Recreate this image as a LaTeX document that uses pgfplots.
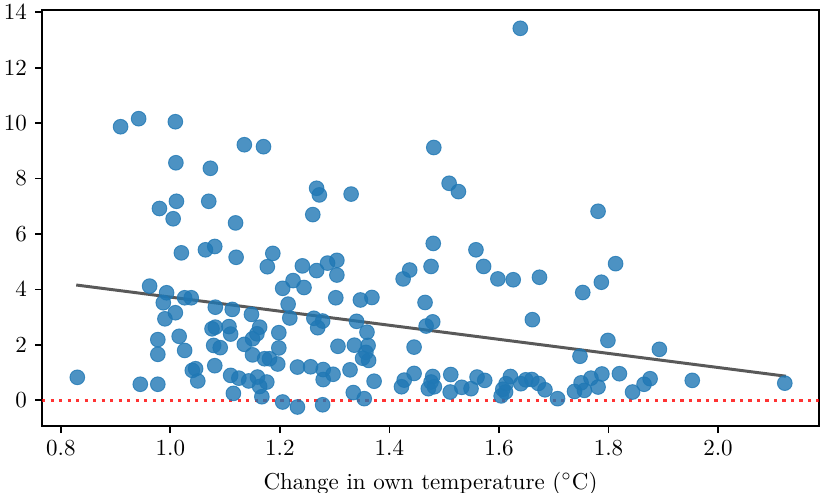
\documentclass[border=0pt]{standalone}
\usepackage{pgfplots}
\pgfplotsset{compat=1.18}
\definecolor{tabblue}{HTML}{1F77B4}
\begin{document}
\begin{tikzpicture}
\begin{axis}[name=ax, scale only axis, width=337.8pt, height=180.9pt,
  xmin=0.7655, xmax=2.1845, ymin=-0.93, ymax=14.08,
  xtick={0.8,1.0,1.2,1.4,1.6,1.8,2.0},
  ytick={0,2,4,6,8,10,12,14},
  xticklabel style={/pgf/number format/.cd, fixed, fixed zerofill, precision=1},
  tick align=outside, xtick pos=bottom, ytick pos=left, major tick length=3pt,
  axis line style={line width=0.8pt}, tick style={line width=0.8pt, black},
  xlabel={Change in own temperature ($^\circ$C)},
  clip=false]
\addplot[only marks, mark=*, mark size=3.2pt,
  mark options={fill=tabblue, draw=tabblue, fill opacity=0.8, draw opacity=0.8, line width=0.4pt}]
coordinates {
(0.830,0.83) (0.909,9.87) (0.942,10.16) (1.009,10.05) (1.010,8.57) (1.073,8.37)
(1.135,9.22) (1.170,9.15) (1.011,7.18) (1.070,7.18) (0.980,6.92) (1.005,6.55)
(1.119,6.40) (1.020,5.32) (1.064,5.43) (1.081,5.55) (1.120,5.16) (1.187,5.30)
(1.177,4.82) (0.962,4.12) (0.993,3.88) (0.987,3.52) (1.026,3.70) (1.038,3.70)
(1.009,3.16) (0.990,2.94) (1.082,3.36) (1.113,3.28) (1.148,3.10) (1.076,2.58)
(1.082,2.64) (1.107,2.66) (1.110,2.39) (1.016,2.31) (0.977,2.19) (0.977,1.66)
(1.026,1.80) (1.079,1.98) (1.091,1.90) (1.135,2.02) (1.150,2.22) (1.150,1.64)
(1.163,2.64) (1.158,2.40) (1.081,1.25) (1.040,1.08) (1.046,1.14) (1.050,0.70)
(0.945,0.58) (0.977,0.58) (1.110,0.90) (1.125,0.80) (1.143,0.70) (1.159,0.84)
(1.163,0.50) (1.176,0.66) (1.115,0.25) (1.167,0.13) (1.172,1.50) (1.181,1.50)
(1.196,1.31) (1.198,2.44) (1.198,1.89)
(1.267,7.65) (1.272,7.41) (1.330,7.44) (1.260,6.70) (1.241,4.85) (1.267,4.68)
(1.287,4.95) (1.304,5.05) (1.304,4.52) (1.224,4.32) (1.205,4.04) (1.244,4.07)
(1.302,3.70) (1.347,3.62) (1.368,3.71) (1.215,3.47) (1.218,2.97) (1.262,2.96)
(1.278,2.86) (1.269,2.62) (1.340,2.85) (1.359,2.46) (1.306,1.95) (1.336,1.99)
(1.361,1.98) (1.357,1.73) (1.351,1.52) (1.362,1.44) (1.232,1.20) (1.256,1.21)
(1.279,1.11) (1.297,0.94) (1.279,0.75) (1.328,1.10) (1.372,0.69) (1.205,-0.06)
(1.232,-0.24) (1.278,-0.16) (1.334,0.28) (1.354,0.06)
(1.425,4.38) (1.437,4.70) (1.476,4.83) (1.480,5.66) (1.465,3.53) (1.479,2.83)
(1.467,2.68) (1.445,1.92) (1.445,0.97) (1.427,0.73) (1.422,0.49) (1.479,0.86)
(1.476,0.66) (1.471,0.42) (1.482,0.49) (1.481,9.12) (1.509,7.83) (1.526,7.53)
(1.558,5.43) (1.572,4.83) (1.598,4.38) (1.626,4.35) (1.674,4.44) (1.661,2.91)
(1.639,13.42) (1.512,0.93) (1.511,0.30) (1.532,0.47) (1.549,0.42) (1.560,0.84)
(1.574,0.72) (1.621,0.86) (1.613,0.60) (1.607,0.40) (1.604,0.16) (1.612,0.30)
(1.640,0.60) (1.649,0.74) (1.660,0.75) (1.672,0.61) (1.684,0.38) (1.707,0.06)
(1.738,0.32) (1.750,0.63) (1.748,1.59) (1.781,6.82) (1.813,4.93) (1.787,4.26)
(1.753,3.89) (1.799,2.16) (1.893,1.84) (1.768,0.80) (1.788,0.95) (1.820,0.96)
(1.876,0.78) (1.865,0.58) (1.844,0.30) (1.781,0.48) (1.756,0.36) (1.953,0.72)
(2.122,0.62)
};
\addplot[black, opacity=0.65, line width=1.3pt] coordinates {(0.828,4.16) (2.124,0.87)};
\addplot[red, opacity=0.8, line width=1.4pt, dash pattern=on 1.4pt off 2.3pt] coordinates {(0.7655,0) (2.1845,0)};
\end{axis}
\pgfresetboundingbox
\path[use as bounding box] ([xshift=-18.26pt,yshift=-28.7pt]ax.south west) rectangle ([xshift=0.87pt,yshift=4.35pt]ax.north east);
\end{tikzpicture}
\end{document}
